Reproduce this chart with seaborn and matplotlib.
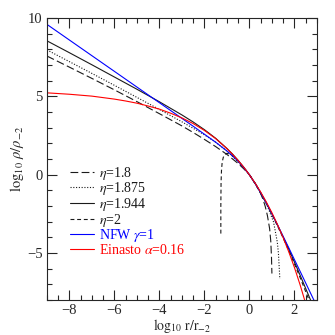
import matplotlib
matplotlib.use("Agg")
import matplotlib.pyplot as plt
import seaborn as sns
import numpy as np

# ---- data ----
nfw_x = [-9, -8, -7, -6, -5, -4, -3, -2.5, -2, -1.5, -1, -0.75, -0.5, -0.25, 0,
         0.25, 0.5, 0.75, 1, 1.25, 1.5, 1.75, 2, 2.25, 2.5, 2.75, 3]
nfw_y = [9.60, 8.60, 7.60, 6.60, 5.60, 4.60, 3.60, 3.10, 2.59, 2.08, 1.52, 1.21, 0.86, 0.46, 0.0,
         -0.54, -1.14, -1.79, -2.48, -3.20, -3.93, -4.66, -5.41, -6.15, -6.90, -7.65, -8.40]

ein_x = [-9, -8, -7, -6, -5.5, -5, -4.5, -4, -3.5, -3, -2.5, -2, -1.5, -1, -0.75, -0.5, -0.25, 0,
         0.25, 0.5, 0.75, 1, 1.25, 1.5, 1.75, 2, 2.25, 2.5]
ein_y = [5.23, 5.14, 5.02, 4.83, 4.71, 4.57, 4.39, 4.19, 3.93, 3.63, 3.27, 2.83, 2.31, 1.67, 1.31, 0.91, 0.48, 0.0,
         -0.52, -1.10, -1.73, -2.42, -3.18, -4.01, -4.92, -5.91, -7.01, -8.21]

eta1944_x = [-9, -8, -7, -6, -5, -4, -3, -2.5, -2, -1.5, -1, -0.75, -0.5, -0.25, 0,
             0.25, 0.5, 0.75, 1, 1.25, 1.5, 1.75, 2, 2.25, 2.5, 2.75, 2.85]
eta1944_y = [8.55, 7.79, 7.02, 6.24, 5.46, 4.66, 3.82, 3.37, 2.88, 2.33, 1.68, 1.32, 0.92, 0.48, 0.0,
             -0.54, -1.15, -1.80, -2.50, -3.22, -3.97, -4.75, -5.56, -6.40, -7.25, -8.10, -8.45]

eta2_x = [-1.27, -1.27, -1.26, -1.24, -1.21, -1.16, -1.08, -1.0, -0.85, -0.7, -0.5, -0.25, 0,
          0.25, 0.5, 0.75, 1, 1.25, 1.5, 1.75, 2, 2.25, 2.5, 2.75]
eta2_y = [-3.75, -2.0, -0.5, 0.3, 0.8, 1.12, 1.30, 1.37, 1.32, 1.16, 0.86, 0.46, 0.0,
          -0.56, -1.17, -1.82, -2.53, -3.27, -4.03, -4.84, -5.68, -6.55, -7.45, -8.35]

eta1875_x = [-9, -8, -7, -6, -5, -4, -3, -2.5, -2, -1.5, -1, -0.5, -0.25, 0,
             0.25, 0.5, 0.65, 0.8, 0.95, 1.07, 1.15, 1.24, 1.29, 1.32, 1.34, 1.35]
eta1875_y = [7.97, 7.22, 6.47, 5.71, 4.94, 4.17, 3.38, 2.97, 2.55, 2.08, 1.52, 0.82, 0.43, 0.0,
             -0.54, -1.15, -1.55, -2.00, -2.55, -3.00, -3.60, -4.30, -5.00, -5.80, -6.30, -6.65]

eta18_x = [-9, -8, -7, -6, -5, -4, -3, -2.5, -2, -1.5, -1, -0.5, -0.25, 0,
           0.25, 0.4, 0.5, 0.6, 0.7, 0.8, 0.9, 0.95, 0.98, 1.0]
eta18_y = [7.58, 6.87, 6.15, 5.42, 4.67, 3.90, 3.12, 2.70, 2.26, 1.80, 1.30, 0.72, 0.38, 0.0,
           -0.52, -0.90, -1.20, -1.55, -2.00, -2.60, -3.45, -4.25, -5.20, -6.30]

labels = [r"$\eta$=1.8", r"$\eta$=1.875", r"$\eta$=1.944", r"$\eta$=2",
          r"NFW $\gamma$=1", r"Einasto $\alpha$=0.16"]

sns.set_style("ticks")
plt.rcParams["font.family"] = ["Liberation Serif", "DejaVu Serif"]
plt.rcParams["mathtext.fontset"] = "stix"

fig = plt.figure(figsize=(3.35, 3.35), dpi=100)
ax = fig.add_axes([0.140, 0.104, 0.806, 0.842])

dark = "#1a1a1a"
sns.lineplot(x=eta18_x, y=eta18_y, ax=ax, sort=False, estimator=None, color=dark,
             lw=0.8, label=labels[0]).lines[-1].set_dashes([7, 3])
sns.lineplot(x=eta1875_x, y=eta1875_y, ax=ax, sort=False, estimator=None, color=dark,
             lw=0.8, label=labels[1]).lines[-1].set_dashes([1, 1.5])
sns.lineplot(x=eta1944_x, y=eta1944_y, ax=ax, sort=False, estimator=None, color=dark,
             lw=0.8, label=labels[2])
sns.lineplot(x=eta2_x, y=eta2_y, ax=ax, sort=False, estimator=None, color=dark,
             lw=0.8, label=labels[3]).lines[-1].set_dashes([3.5, 2.5])
sns.lineplot(x=nfw_x, y=nfw_y, ax=ax, sort=False, estimator=None, color="#0000ff",
             lw=0.8, label=labels[4])
sns.lineplot(x=ein_x, y=ein_y, ax=ax, sort=False, estimator=None, color="#ff0000",
             lw=0.8, label=labels[5])

ax.set_xlim(-9, 3)
ax.set_ylim(-8, 10)
ax.set_xticks([-8, -6, -4, -2, 0, 2])
ax.set_xticks(np.arange(-9, 3.01, 0.5), minor=True)
ax.set_yticks([-5, 0, 5, 10])
ax.set_yticks(np.arange(-8, 10.01, 1), minor=True)
ax.tick_params(which="both", direction="in", top=True, right=True, labelsize=10.5)
ax.tick_params(which="major", length=7, width=0.8, pad=3)
ax.tick_params(which="minor", length=3.5, width=0.8)
ax.set_xticklabels(["\u22128", "\u22126", "\u22124", "\u22122", "0", "2"])
ax.set_yticklabels(["\u22125", "0", "5", "10"])
for s in ax.spines.values():
    s.set_linewidth(0.8)

ax.set_xlabel(r"$\log_{10}\,\mathrm{r/r_{-2}}$", fontsize=10, labelpad=-0.5)
ax.set_ylabel(r"$\log_{10}\,\rho/\rho_{-2}$", fontsize=10.5, labelpad=1)

leg = ax.legend(loc="upper left", bbox_to_anchor=(0.065, 0.50), frameon=False,
                fontsize=10, handlelength=1.7, handletextpad=0.4, labelspacing=-0.1,
                borderaxespad=0)
cols = [dark, dark, dark, dark, "#0000ff", "#ff0000"]
for t, c in zip(leg.get_texts(), cols):
    t.set_color(c)

fig.savefig("out.png", dpi=100)
